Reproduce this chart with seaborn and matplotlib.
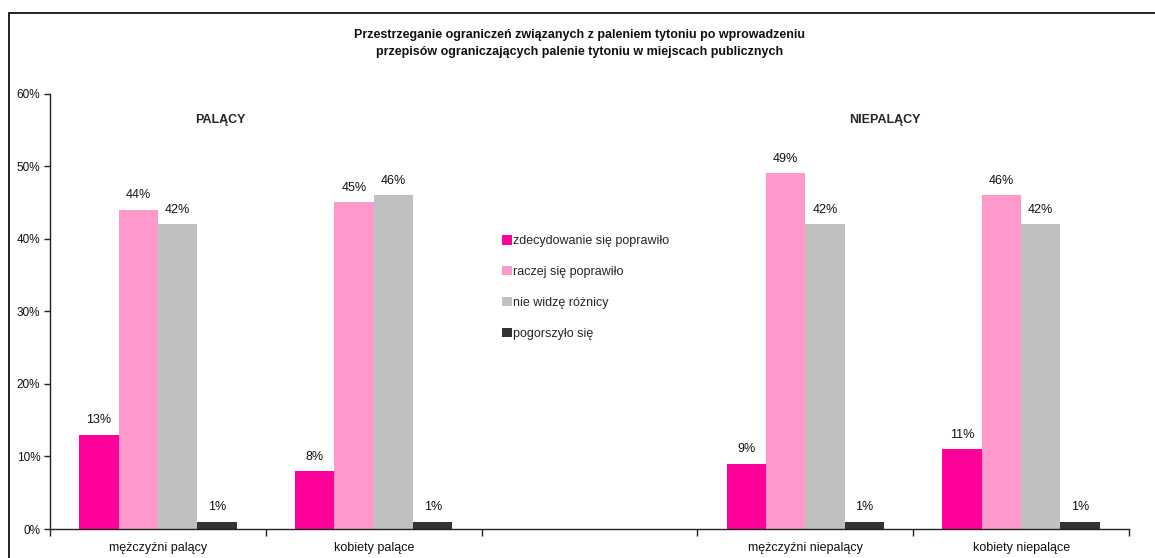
import matplotlib
matplotlib.use("Agg")
import matplotlib.pyplot as plt
from matplotlib.lines import Line2D
from matplotlib.ticker import FixedLocator, PercentFormatter
import numpy as np
import pandas as pd
import seaborn as sns

# data
groups = ["mężczyźni palący", "kobiety palące", " ", "mężczyźni niepalący", "kobiety niepalące"]
answers = ["zdecydowanie się poprawiło", "raczej się poprawiło", "nie widzę różnicy", "pogorszyło się"]
men_smokers = [13, 44, 42, 1]
women_smokers = [8, 45, 46, 1]
men_nonsmokers = [9, 49, 42, 1]
women_nonsmokers = [11, 46, 42, 1]
colors = ["#FF0099", "#FF99CC", "#C0C0C0", "#333333"]

title = ("Przestrzeganie ograniczeń związanych z paleniem tytoniu po wprowadzeniu\n"
         "przepisów ograniczających palenie tytoniu w miejscach publicznych")

rows = []
for grp, vals in zip([groups[0], groups[1], groups[3], groups[4]],
                     [men_smokers, women_smokers, men_nonsmokers, women_nonsmokers]):
    for ans, v in zip(answers, vals):
        rows.append({"grupa": grp, "odpowiedz": ans, "procent": v})
df = pd.DataFrame(rows)

sns.set_theme(style="white")
plt.rcParams["font.family"] = ["Liberation Sans", "DejaVu Sans"]

fig = plt.figure(figsize=(11.55, 5.58), dpi=100)
ax = fig.add_axes([50 / 1155, 1 - 529 / 558, (1129 - 50) / 1155, (529 - 93.5) / 558])

sns.barplot(data=df, x="grupa", y="procent", hue="odpowiedz", order=groups,
            hue_order=answers, palette=colors, width=0.73, saturation=1,
            errorbar=None, ax=ax, legend=True, linewidth=0)

for cont in ax.containers:
    ax.bar_label(cont, fmt="%d%%", padding=6, fontsize=9, color="#111111")

ax.set_xlim(-0.5, len(groups) - 0.5)
ax.set_ylim(0, 60)
ax.set_yticks(np.arange(0, 61, 10))
ax.yaxis.set_major_formatter(PercentFormatter(decimals=0))
ax.set_xlabel("")
ax.set_ylabel("")

for side in ["top", "right"]:
    ax.spines[side].set_visible(False)
for side in ["left", "bottom"]:
    ax.spines[side].set_color("#222222")
    ax.spines[side].set_linewidth(1.0)

ax.xaxis.set_minor_locator(FixedLocator(np.arange(-0.5, len(groups), 1)))
ax.tick_params(axis="x", which="major", length=0, pad=9, labelsize=9, colors="#111111")
ax.tick_params(axis="x", which="minor", bottom=True, length=5, width=1, color="#222222")
ax.tick_params(axis="y", left=True, length=4, width=1, color="#222222", pad=3,
               labelsize=8.5, labelcolor="#111111")

ax.text(0.29, 56.4, "PALĄCY", ha="center", va="center", fontsize=9, fontweight="bold")
ax.text(3.37, 56.4, "NIEPALĄCY", ha="center", va="center", fontsize=9, fontweight="bold")

leg = ax.legend(loc="upper left", bbox_to_anchor=(502 / 1155, 1 - 235 / 558),
                bbox_transform=fig.transFigure, frameon=False, fontsize=9,
                handlelength=0.8, handleheight=0.8, handletextpad=0.1,
                labelspacing=1.5, borderpad=0, borderaxespad=0)

fig.text(0.502, 1 - 43.5 / 558, title, ha="center", va="center", fontsize=9,
         fontweight="bold", linespacing=1.6, color="#111111")

# frame around the chart area
fig.add_artist(Line2D([8.5 / 1155, 8.5 / 1155], [0, 1 - 13 / 558],
                      transform=fig.transFigure, color="#222222", lw=1.4))
fig.add_artist(Line2D([8.5 / 1155, 1], [1 - 13 / 558, 1 - 13 / 558],
                      transform=fig.transFigure, color="#222222", lw=1.4))

fig.savefig("out.png", dpi=100)
